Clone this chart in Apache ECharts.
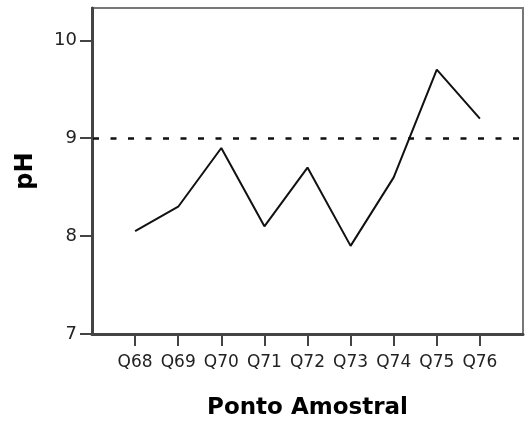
<!DOCTYPE html>
<html><head><meta charset="utf-8">
<script src="https://cdn.jsdelivr.net/npm/echarts@6/dist/echarts.min.js"></script>
<style>html,body{margin:0;padding:0;background:#fff}#c{width:525px;height:423px}</style>
</head><body><div id="c"></div>
<script>
const categories = ['Q68','Q69','Q70','Q71','Q72','Q73','Q74','Q75','Q76'];
const phValues = [8.05, 8.3, 8.9, 8.1, 8.7, 7.9, 8.6, 9.7, 9.2];
const yTicks = [7, 8, 9, 10];
const refLevel = 9;

const chart = echarts.init(document.getElementById('c'));
const idx = categories.map((_, i) => i);
chart.setOption({
  animation: false,
  grid: {left: 92, top: 8, right: 2, bottom: 89, outerBoundsMode: 'none', containLabel: false, show: true, borderColor: '#777', borderWidth: 2, backgroundColor: '#fff'},
  xAxis: {
    type: 'value', min: -1, max: 9, interval: 1,
    name: 'Ponto Amostral', nameLocation: 'middle', nameGap: 63,
    nameTextStyle: {fontFamily: 'DejaVu Sans', fontWeight: 'bold', fontSize: 23, color: '#000'},
    axisLine: {show: true, onZero: false, lineStyle: {color: '#444', width: 3}},
    axisTick: {show: true, length: 12, customValues: idx, lineStyle: {color: '#444', width: 2}},
    axisLabel: {customValues: idx, formatter: v => categories[v] || '', fontFamily: 'DejaVu Sans', fontSize: 17, color: '#222', margin: 20},
    splitLine: {show: false}
  },
  yAxis: {
    type: 'value', min: 7, max: 10.33, interval: 1,
    name: 'pH', nameLocation: 'middle', nameGap: 54, nameRotate: 90,
    nameTextStyle: {fontFamily: 'DejaVu Sans', fontWeight: 'bold', fontSize: 24, color: '#000'},
    axisLine: {show: true, onZero: false, lineStyle: {color: '#444', width: 3}},
    axisTick: {show: true, length: 12, customValues: yTicks, lineStyle: {color: '#444', width: 2}},
    axisLabel: {customValues: yTicks, fontFamily: 'DejaVu Sans', fontSize: 18, color: '#222', margin: 15},
    splitLine: {show: false}
  },
  series: [{
    type: 'line',
    data: phValues.map((v, i) => [i, v]),
    symbol: 'none',
    lineStyle: {color: '#111', width: 2},
    markLine: {
      silent: true, symbol: 'none', label: {show: false},
      lineStyle: {color: '#111', width: 2.5, type: [6, 11.5], dashOffset: 16.5},
      data: [{yAxis: refLevel}]
    }
  }]
});
</script></body></html>
